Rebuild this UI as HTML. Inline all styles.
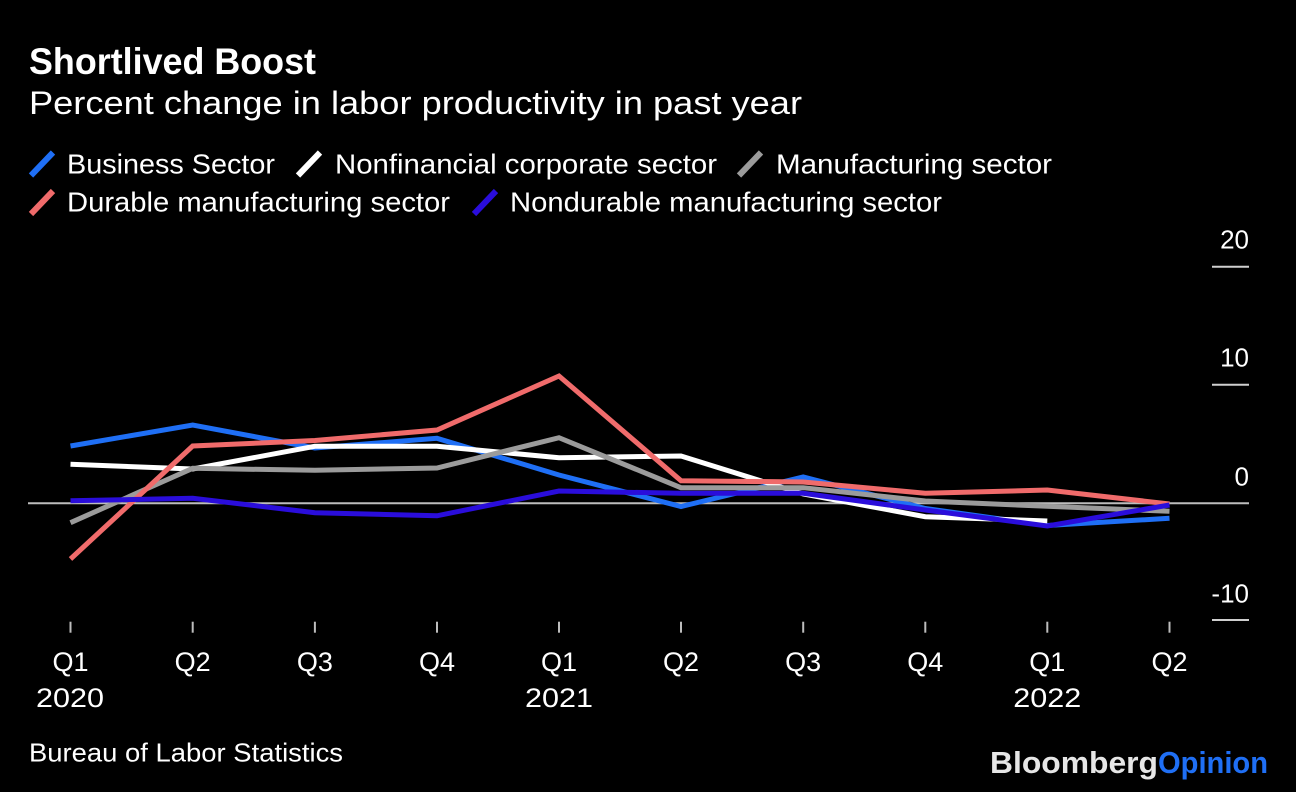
<!DOCTYPE html>
<html>
<head>
<meta charset="utf-8">
<style>
  html,body{margin:0;padding:0;background:#000;}
  body{width:1296px;height:792px;overflow:hidden;}
  svg{display:block;}
  text{font-family:"Liberation Sans", Arial, sans-serif;fill:#fff;}
</style>
</head>
<body>
<svg width="1296" height="792" viewBox="0 0 1296 792" xmlns="http://www.w3.org/2000/svg">
  <rect x="0" y="0" width="1296" height="792" fill="#000"/>

  <!-- Title / subtitle -->
  <text x="29" y="74" font-size="37" font-weight="bold" textLength="287" lengthAdjust="spacingAndGlyphs">Shortlived Boost</text>
  <text x="29" y="114" font-size="32" textLength="773" lengthAdjust="spacingAndGlyphs">Percent change in labor productivity in past year</text>

  <!-- Legend row 1 -->
  <line x1="31" y1="175.5" x2="53" y2="152.5" stroke="#1f6ff5" stroke-width="6"/>
  <text x="67" y="173.3" font-size="28" textLength="208" lengthAdjust="spacingAndGlyphs">Business Sector</text>
  <line x1="298" y1="175.5" x2="320" y2="152.5" stroke="#ffffff" stroke-width="6"/>
  <text x="335" y="173.3" font-size="28" textLength="382" lengthAdjust="spacingAndGlyphs">Nonfinancial corporate sector</text>
  <line x1="739" y1="175.5" x2="761" y2="152.5" stroke="#9b9b9b" stroke-width="6"/>
  <text x="776" y="173.3" font-size="28" textLength="276" lengthAdjust="spacingAndGlyphs">Manufacturing sector</text>

  <!-- Legend row 2 -->
  <line x1="31" y1="214" x2="53" y2="191" stroke="#f06b6b" stroke-width="6"/>
  <text x="67" y="211.7" font-size="28" textLength="383" lengthAdjust="spacingAndGlyphs">Durable manufacturing sector</text>
  <line x1="474" y1="214" x2="496" y2="191" stroke="#2a0ddb" stroke-width="6"/>
  <text x="510" y="211.7" font-size="28" textLength="432" lengthAdjust="spacingAndGlyphs">Nondurable manufacturing sector</text>

  <!-- Y axis ticks and labels -->
  <g stroke="#cfcfcf" stroke-width="2">
    <line x1="1212" y1="266.7" x2="1249" y2="266.7"/>
    <line x1="1212" y1="384.7" x2="1249" y2="384.7"/>
    <line x1="1212" y1="620" x2="1249" y2="620"/>
  </g>
  <line x1="28" y1="503.3" x2="1249" y2="503.3" stroke="#bdbdbd" stroke-width="2"/>
  <g font-size="26" text-anchor="end">
    <text x="1249" y="248.3">20</text>
    <text x="1249" y="366.7">10</text>
    <text x="1249" y="485.7">0</text>
    <text x="1249" y="602.7">-10</text>
  </g>

  <!-- X axis ticks -->
  <g stroke="#bdbdbd" stroke-width="2">
    <line x1="70.5" y1="621.7" x2="70.5" y2="632.7"/>
    <line x1="192.7" y1="621.7" x2="192.7" y2="632.7"/>
    <line x1="314.9" y1="621.7" x2="314.9" y2="632.7"/>
    <line x1="437" y1="621.7" x2="437" y2="632.7"/>
    <line x1="559" y1="621.7" x2="559" y2="632.7"/>
    <line x1="681" y1="621.7" x2="681" y2="632.7"/>
    <line x1="803.2" y1="621.7" x2="803.2" y2="632.7"/>
    <line x1="925.3" y1="621.7" x2="925.3" y2="632.7"/>
    <line x1="1047.3" y1="621.7" x2="1047.3" y2="632.7"/>
    <line x1="1169.5" y1="621.7" x2="1169.5" y2="632.7"/>
  </g>
  <g font-size="27" text-anchor="middle">
    <text x="70.5" y="671">Q1</text>
    <text x="192.7" y="671">Q2</text>
    <text x="314.9" y="671">Q3</text>
    <text x="437" y="671">Q4</text>
    <text x="559" y="671">Q1</text>
    <text x="681" y="671">Q2</text>
    <text x="803.2" y="671">Q3</text>
    <text x="925.3" y="671">Q4</text>
    <text x="1047.3" y="671">Q1</text>
    <text x="1169.5" y="671">Q2</text>
  </g>
  <text x="36" y="707" font-size="27" textLength="68" lengthAdjust="spacingAndGlyphs">2020</text>
  <text x="525" y="707" font-size="27" textLength="68" lengthAdjust="spacingAndGlyphs">2021</text>
  <text x="1013.3" y="707" font-size="27" textLength="68" lengthAdjust="spacingAndGlyphs">2022</text>

  <!-- Series -->
  <g fill="none" stroke-width="5" stroke-linejoin="miter" stroke-linecap="butt">
    <polyline stroke="#1f6ff5" points="70.5,446 192.7,425 314.9,448 437,438.3 559,475 681,506.5 803.2,477 925.3,508.5 1047.3,525.5 1169.5,518.3"/>
    <polyline stroke="#ffffff" points="70.5,464.3 192.7,469 314.9,446.3 437,446.3 559,457.7 681,456 803.2,494 925.3,516.7 1047.3,521"/>
    <polyline stroke="#9b9b9b" points="70.5,522.7 192.7,468.3 314.9,470.3 437,468 559,437.7 681,487.7 803.2,487.7 925.3,501 1047.3,506.3 1169.5,511.3"/>
    <polyline stroke="#f06b6b" points="70.5,559 192.7,446 314.9,440.5 437,430 559,376 681,480.7 803.2,482 925.3,493.3 1047.3,490 1169.5,504"/>
    <polyline stroke="#2a0ddb" points="70.5,500.7 192.7,498.3 314.9,512.7 437,515.8 559,491 681,493.3 803.2,493.3 925.3,510 1047.3,526 1169.5,505"/>
  </g>

  <!-- Footer -->
  <text x="29" y="761.7" font-size="26" textLength="314" lengthAdjust="spacingAndGlyphs">Bureau of Labor Statistics</text>
  <text x="990" y="773" font-size="31" font-weight="bold" fill="#e6e6e6" style="fill:#e6e6e6" textLength="168" lengthAdjust="spacingAndGlyphs">Bloomberg</text>
  <text x="1158" y="773" font-size="31" font-weight="bold" style="fill:#1f6ff5" textLength="110" lengthAdjust="spacingAndGlyphs">Opinion</text>
</svg>
</body>
</html>
